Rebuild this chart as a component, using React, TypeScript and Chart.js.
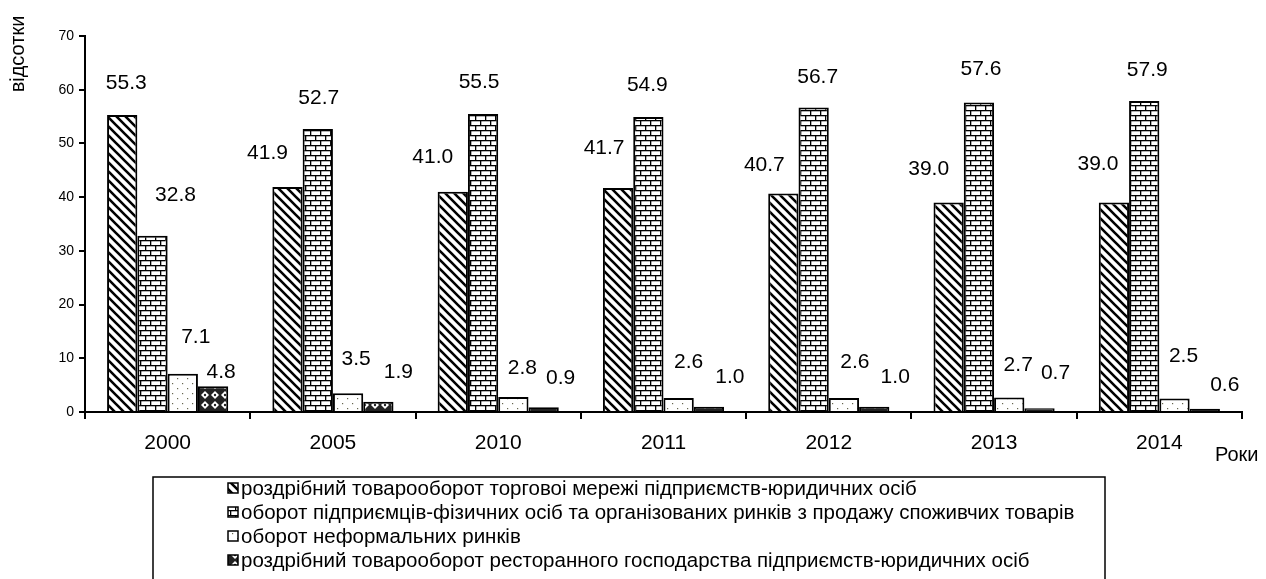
import React, { useEffect, useRef } from "react";
import { Chart, registerables } from "chart.js";

Chart.register(...registerables);

const YEARS = ["2000", "2005", "2010", "2011", "2012", "2013", "2014"];
const RETAIL_LEGAL = [55.3, 41.9, 41.0, 41.7, 40.7, 39.0, 39.0];
const ENTREPRENEURS = [32.8, 52.7, 55.5, 54.9, 56.7, 57.6, 57.9];
const INFORMAL = [7.1, 3.5, 2.8, 2.6, 2.6, 2.7, 2.5];
const RESTAURANT = [4.8, 1.9, 0.9, 1.0, 1.0, 0.7, 0.6];

const SERIES_NAMES = [
  "роздрібний товарооборот торговоі мережі підприємств-юридичних осіб",
  "оборот підприємців-фізичних осіб та організованих ринків з продажу споживчих товарів",
  "оборот неформальних ринків",
  "роздрібний товарооборот ресторанного господарства підприємств-юридичних осіб",
];

const Y_TITLE = "відсотки";
const X_TITLE = "Роки";
const Y_TICKS = [0, 10, 20, 30, 40, 50, 60, 70];

// label offsets (px) relative to the top-centre of each bar, per series / per category
const LABEL_DX = [
  [4, -20, -20, -14, -19, -20, -16],
  [23, 1, -4, -1, 4, 2, 3],
  [13, 8, 9, 10, 11, 9, 9],
  [8, 20, 17, 21, 21, 16, 20],
];
const LABEL_DY = [
  [-32, -34, -35, -40, -28, -33, -38],
  [-41, -31, -32, -32, -30, -33, -31],
  [-37, -34, -29, -36, -36, -32, -42],
  [-14, -30, -29, -29, -29, -35, -24],
];

const FONT = "'Liberation Sans', Arial, sans-serif";

function makeTile(w: number, h: number, draw: (c: CanvasRenderingContext2D) => void) {
  const cv = document.createElement("canvas");
  cv.width = w;
  cv.height = h;
  const c = cv.getContext("2d")!;
  draw(c);
  return cv;
}

function makePatterns(ctx: CanvasRenderingContext2D) {
  const diag = makeTile(9, 9, (c) => {
    c.fillStyle = "#fff";
    c.fillRect(0, 0, 9, 9);
    c.strokeStyle = "#000";
    c.lineWidth = 2.6;
    c.beginPath();
    for (let k = -9; k <= 9; k += 9) {
      c.moveTo(k - 1, -1);
      c.lineTo(k + 10, 10);
    }
    c.stroke();
  });
  const brick = makeTile(10, 10, (c) => {
    c.fillStyle = "#fff";
    c.fillRect(0, 0, 10, 10);
    c.fillStyle = "#000";
    c.fillRect(0, 0, 10, 1.3);
    c.fillRect(0, 5, 10, 1.3);
    c.fillRect(0, 0, 1.3, 5);
    c.fillRect(5, 5, 1.3, 5);
  });
  const dots = makeTile(10, 10, (c) => {
    c.fillStyle = "#fff";
    c.fillRect(0, 0, 10, 10);
    c.fillStyle = "#666650";
    c.fillRect(2, 3, 1.2, 1.2);
    c.fillRect(7, 8, 1.2, 1.2);
  });
  const diamonds = makeTile(10, 10, (c) => {
    c.fillStyle = "#222";
    c.fillRect(0, 0, 10, 10);
    c.fillStyle = "#fff";
    c.beginPath();
    c.moveTo(5, 1);
    c.lineTo(9, 5);
    c.lineTo(5, 9);
    c.lineTo(1, 5);
    c.closePath();
    c.fill();
    c.fillStyle = "#222";
    c.beginPath();
    c.arc(5, 5, 1.2, 0, Math.PI * 2);
    c.fill();
  });
  return [diag, brick, dots, diamonds].map((t) => ctx.createPattern(t, "repeat")!);
}

export default function App() {
  const ref = useRef<HTMLCanvasElement>(null);

  useEffect(() => {
    document.body.style.margin = "0";
    const canvas = ref.current!;
    const ctx = canvas.getContext("2d")!;
    const patterns = makePatterns(ctx);
    const values = [RETAIL_LEGAL, ENTREPRENEURS, INFORMAL, RESTAURANT];

    const labelPlugin = {
      id: "valueLabels",
      afterDatasetsDraw(chart: any) {
        const c = chart.ctx;
        c.save();
        c.font = `21px ${FONT}`;
        c.fillStyle = "#000";
        c.textAlign = "center";
        c.textBaseline = "middle";
        chart.data.datasets.forEach((ds: any, i: number) => {
          const meta = chart.getDatasetMeta(i);
          meta.data.forEach((el: any, j: number) => {
            const v = ds.data[j] as number;
            c.fillText(v.toFixed(1), el.x + LABEL_DX[i][j], el.y + LABEL_DY[i][j]);
          });
        });
        c.restore();
      },
    };

    const decorPlugin = {
      id: "decor",
      afterDraw(chart: any) {
        const c = chart.ctx;
        c.save();
        c.fillStyle = "#000";
        c.font = `20px ${FONT}`;
        c.textAlign = "center";
        c.textBaseline = "middle";
        c.translate(18, 54);
        c.rotate(-Math.PI / 2);
        c.fillText(Y_TITLE, 0, 0);
        c.restore();

        c.save();
        c.fillStyle = "#000";
        c.font = `20px ${FONT}`;
        c.textAlign = "left";
        c.textBaseline = "middle";
        c.fillText(X_TITLE, 1215, 455);

        c.strokeStyle = "#000";
        c.lineWidth = 1.5;
        c.strokeRect(153, 477, 952, 130);
        c.font = `20.5px ${FONT}`;
        SERIES_NAMES.forEach((name, i) => {
          const y = 488 + i * 24;
          c.fillStyle = patterns[i];
          c.fillRect(228, y - 5, 10, 10);
          c.lineWidth = 1.5;
          c.strokeRect(228, y - 5, 10, 10);
          c.fillStyle = "#000";
          c.fillText(name, 241, y + 1);
        });
        c.restore();
      },
    };

    const chart = new Chart(canvas, {
      type: "bar",
      data: {
        labels: YEARS,
        datasets: values.map((d, i) => ({
          label: SERIES_NAMES[i],
          data: d,
          backgroundColor: patterns[i],
          borderColor: "#000",
          borderWidth: 2,
          borderSkipped: "bottom",
          categoryPercentage: 0.733,
          barPercentage: 1,
        })),
      },
      options: {
        animation: false,
        responsive: false,
        maintainAspectRatio: false,
        layout: { padding: { top: 36, right: 24, left: 0, bottom: 0 } },
        plugins: { legend: { display: false }, tooltip: { enabled: false } },
        scales: {
          x: {
            afterFit: (s: any) => {
              s.height = 167;
            },
            grid: {
              display: true,
              drawOnChartArea: false,
              drawTicks: true,
              tickLength: 7,
              color: "#000",
              lineWidth: 2,
              offset: true,
            },
            border: { display: true, color: "#000", width: 2 },
            ticks: { color: "#000", font: { family: FONT, size: 21 }, padding: 12 },
          },
          y: {
            min: 0,
            max: 70,
            afterFit: (s: any) => {
              s.width = 85;
            },
            afterBuildTicks: (s: any) => {
              s.ticks = Y_TICKS.map((v) => ({ value: v }));
            },
            grid: {
              display: true,
              drawOnChartArea: false,
              drawTicks: true,
              tickLength: 6,
              color: "#000",
              lineWidth: 2,
            },
            border: { display: true, color: "#000", width: 2 },
            ticks: { color: "#000", font: { family: FONT, size: 14 }, padding: 5 },
          },
        },
      },
      plugins: [labelPlugin, decorPlugin],
    });
    return () => chart.destroy();
  }, []);

  return (
    <div style={{ width: 1266, height: 579, background: "#fff" }}>
      <canvas ref={ref} width={1266} height={579} style={{ display: "block" }} />
    </div>
  );
}
